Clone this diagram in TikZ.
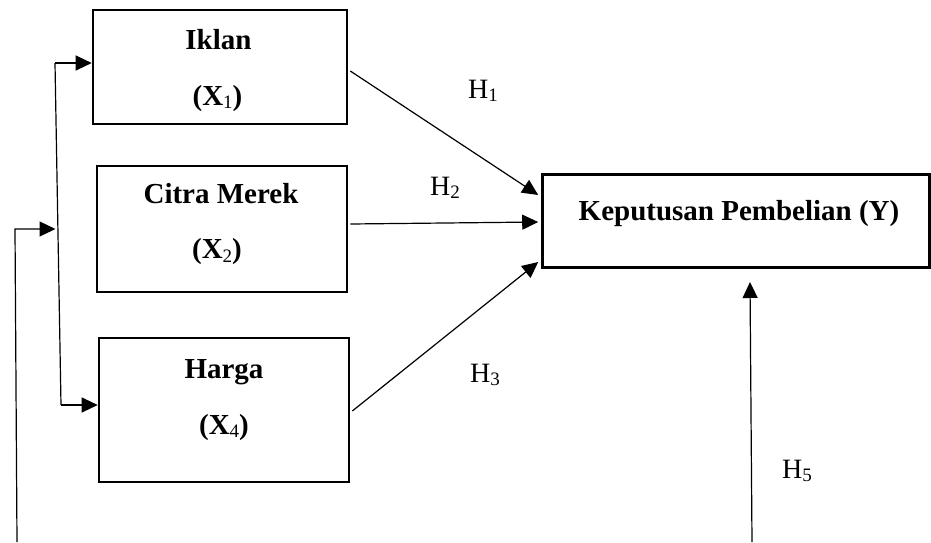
\documentclass[tikz,border=0pt]{standalone}
\usepackage{fontspec}
\setmainfont{Liberation Serif}
\usetikzlibrary{arrows.meta}
\newcommand\subdig[1]{\raisebox{-0.12em}{\fontsize{19}{19}\selectfont\mdseries #1}}
\begin{document}
\begin{tikzpicture}[x=1pt,y=-1pt,
  box/.style={draw, line width=2.6pt, inner sep=0pt},
  conn/.style={line width=1.2pt},
  arr/.style={conn, -{Triangle[length=16pt,width=15pt]}},
  lab/.style={font=\fontsize{29}{34}\selectfont\bfseries, inner sep=0pt},
  hyp/.style={font=\fontsize{28}{34}\selectfont, inner sep=0pt, anchor=base west}]
\useasboundingbox (0,0) rectangle (931,542);
% boxes
\node[box, minimum width=254pt, minimum height=114pt] (iklan) at (220,67) {};
\node[box, minimum width=250pt, minimum height=126pt] (citra) at (222,229) {};
\node[box, minimum width=250pt, minimum height=144pt] (harga) at (224,410) {};
\node[box, minimum width=387pt, minimum height=93pt] (kp) at (736,221) {};
% texts
\node[lab, anchor=base] (t1) at (218.5,49) {Iklan};
\node[lab] (t1b) at (217.5,98.5) {(X\subdig{1})};
\node[lab, anchor=base] (t2) at (221,203) {Citra Merek};
\node[lab] (t2b) at (217,252) {(X\subdig{2})};
\node[lab, anchor=base] (t3) at (224,378) {Harga};
\node[lab] (t3b) at (224,427.5) {(X\subdig{4})};
\node[lab, anchor=base] (t4) at (739,220) {Keputusan Pembelian (Y)};
% hypothesis labels
\node[hyp] (h1) at (468,98) {H\subdig{1}};
\node[hyp] (h2) at (430,195) {H\subdig{2}};
\node[hyp] (h3) at (470,382) {H\subdig{3}};
\node[hyp] (h5) at (782,478) {H\subdig{5}};
% main arrows
\draw[arr] ([xshift=2pt,yshift=-4pt]iklan.east) -- ([xshift=-3pt,yshift=26pt]kp.west);
\draw[arr] ([xshift=2pt,yshift=5pt]citra.east) -- ([xshift=-3pt,yshift=-1pt]kp.west);
\draw[arr] ([xshift=2pt,yshift=-1pt]harga.east) -- ([xshift=-3pt,yshift=-41pt]kp.west);
% left connectors
\coordinate (o1) at (17,542);
\coordinate (o2) at (15,229);
\coordinate (m) at (55.5,229);
\coordinate (v1) at (55,63);
\coordinate (v2) at (61,405);
\draw[arr] (o1) -- (o2) -- (m);
\draw[conn] (v1) -- (v2);
\draw[arr] (v1) -- (v1 -| iklan.west);
\draw[arr] (v2) -- (v2 -| harga.west);
% right connector
\coordinate (r0) at (752,542);
\coordinate (r1) at (750,282);
\draw[arr] (r0) -- (r1);
\end{tikzpicture}
\end{document}
